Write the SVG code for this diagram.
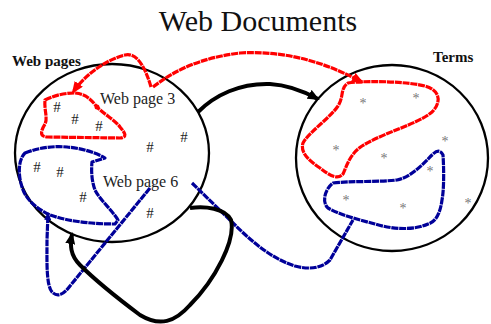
<svg xmlns="http://www.w3.org/2000/svg" width="491" height="324" viewBox="0 0 491 324">
<defs>
<style>
.set{fill:none;stroke:#000;stroke-width:2.3}
.red{fill:none;stroke:#ff0000;stroke-width:3.2;stroke-dasharray:7 0.8;stroke-linejoin:round}
.blue{fill:none;stroke:#000099;stroke-width:3.2;stroke-dasharray:7 0.8;stroke-linejoin:round}
.blk{fill:none;stroke:#000;stroke-width:4;stroke-linejoin:round}
.lbl{font-family:"Liberation Serif",serif;font-size:16px;fill:#222}
.hd{font-family:"Liberation Serif",serif;font-size:15px;font-weight:bold;fill:#111}
.hash{font-family:"Liberation Serif",serif;font-size:15px;fill:#222;text-anchor:middle}
.star{font-family:"Liberation Serif",serif;font-size:14px;fill:#777;text-anchor:middle}
</style>
<marker id="ar" markerWidth="12" markerHeight="10" refX="10" refY="5" orient="auto" markerUnits="userSpaceOnUse"><path d="M0,0 L12,5 L0,10 Z" fill="#ff0000"/></marker>
<marker id="ab" markerWidth="12" markerHeight="10" refX="10" refY="5" orient="auto" markerUnits="userSpaceOnUse"><path d="M0,0 L12,5 L0,10 Z" fill="#000"/></marker>
<marker id="au" markerWidth="8" markerHeight="7" refX="7" refY="3.5" orient="auto" markerUnits="userSpaceOnUse"><path d="M0,0 L8,3.5 L0,7 Z" fill="#000099"/></marker>
</defs>
<rect width="491" height="324" fill="#fff"/>
<text x="258" y="31" text-anchor="middle" font-family="Liberation Serif, serif" font-size="30" fill="#111">Web Documents</text>
<g id="webpages">
<ellipse class="set" cx="112" cy="153" rx="97" ry="89"/>
<text class="hd" x="12" y="66">Web pages</text>
<text class="lbl" x="100" y="104">Web page 3</text>
<text class="lbl" x="103" y="187">Web page 6</text>
<text class="hash" x="57" y="112">#</text>
<text class="hash" x="75" y="124">#</text>
<text class="hash" x="99" y="131">#</text>
<text class="hash" x="150" y="152">#</text>
<text class="hash" x="184" y="142">#</text>
<text class="hash" x="37" y="172">#</text>
<text class="hash" x="60" y="177">#</text>
<text class="hash" x="83" y="202">#</text>
<text class="hash" x="150" y="218">#</text>
</g>
<g id="terms">
<ellipse class="set" cx="392" cy="158" rx="96" ry="93"/>
<text class="hd" x="433" y="62">Terms</text>
<text class="star" x="363" y="108">*</text>
<text class="star" x="416" y="103">*</text>
<text class="star" x="445" y="146">*</text>
<text class="star" x="336" y="155">*</text>
<text class="star" x="384" y="163">*</text>
<text class="star" x="430" y="176">*</text>
<text class="star" x="346" y="205">*</text>
<text class="star" x="403" y="213">*</text>
<text class="star" x="468" y="208">*</text>
</g>
<g id="connectors">
<path class="red" d="M45,100 C55,95 65,93 75,93 C85,94 90,98 97,107 C105,115 115,120 120,127 C125,133 128,137 120,138 L48,137 C40,137 40,132 45,124 C48,118 44,110 45,100 Z"/>
<circle cx="97" cy="107" r="2.5" fill="#ff0000"/>
<path class="red" d="M151,87 C146,70 138,52 125,55 C105,60 85,75 73,92" marker-end="url(#ar)"/>
<path class="red" d="M153,87 C175,70 200,58 240,53 C290,50 330,65 362,82" marker-end="url(#ar)"/>
<path class="red" d="M348,83 C370,80 410,82 425,86 C440,90 442,102 432,112 C418,124 385,132 362,146 C350,154 347,165 343,174 C338,180 330,176 320,168 C308,160 300,152 303,143 C308,133 330,118 338,106 C344,97 340,88 348,83 Z"/>
<path class="blue" d="M25,153 C40,147 55,146 67,147 C80,148 95,152 105,158 L92,162 C91,172 92,182 95,190 C100,200 112,210 118,220 L115,224 C95,224 70,222 50,215 C35,208 25,198 22,187 C18,175 18,160 25,153 Z"/>
<path class="blue" d="M333,183 C350,181 380,182 397,180 C412,177 425,162 432,155 C436,151 440,149 443,155 C444,170 444,190 442,200 C440,215 435,222 428,224 C415,230 395,230 375,224 C360,220 340,215 328,208 C322,203 324,190 333,183 Z"/>
<path class="blue" d="M150,188 L70,286 C64,294 58,298 52,292 C46,285 47,260 47,240 L48,213" marker-end="url(#au)"/>
<path class="blue" d="M192,183 L232,222 C250,240 270,258 295,266 C310,270 322,268 330,260 L353,220"/>
<path class="blk" d="M198,112 C215,95 240,83 270,84 C290,85 305,92 318,99" marker-end="url(#ab)"/>
<path class="blk" d="M190,208 C205,206 225,208 231,220 C236,240 215,280 190,305 C175,322 160,327 140,315 C120,300 95,280 80,265 C70,255 70,245 72,234" marker-end="url(#ab)"/>
</g>
</svg>
